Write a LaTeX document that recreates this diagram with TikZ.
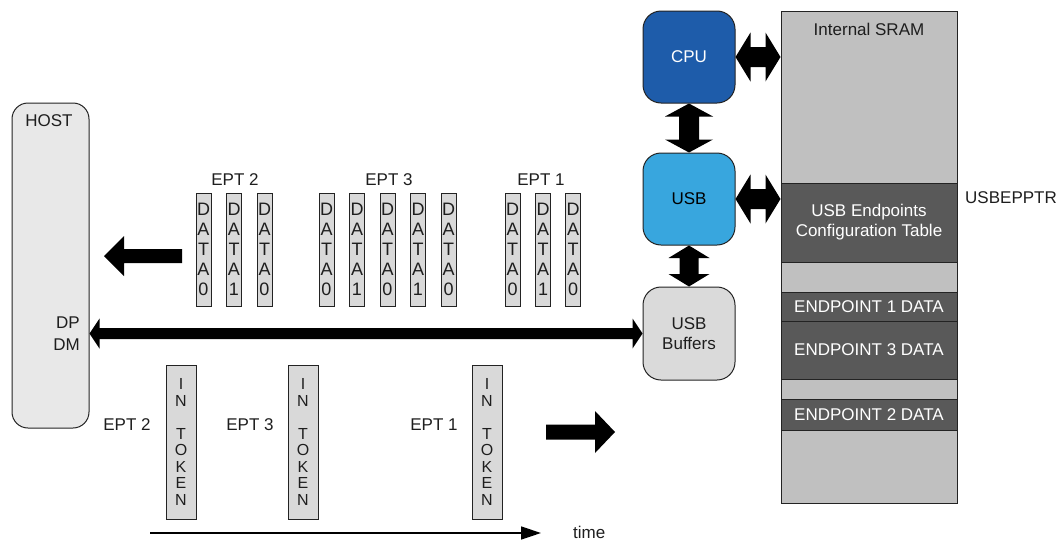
\documentclass[tikz,border=0pt]{standalone}
\usepackage{fontspec}
\setmainfont{Liberation Sans}
\usetikzlibrary{calc,arrows.meta}
\definecolor{cpublue}{RGB}{30,92,170}
\definecolor{usbblue}{RGB}{56,166,222}
\definecolor{hostgray}{RGB}{232,232,232}
\definecolor{bufgray}{RGB}{218,218,218}
\definecolor{sramgray}{RGB}{192,192,192}
\definecolor{darkblk}{RGB}{89,89,89}
\definecolor{boxgray}{RGB}{217,217,217}
\definecolor{edgec}{RGB}{35,35,35}
\definecolor{txt}{RGB}{30,30,30}
% double block arrow between two named points
\newcommand\dblblock[5]{%
  \path ($(#1)!#3!(#2)$) coordinate (dbHa) ($(#2)!#3!(#1)$) coordinate (dbHb);
  \fill[black] (#1) -- ($(dbHa)!#4!90:(#2)$) -- ($(dbHa)!#5!90:(#2)$)
    -- ($(dbHb)!#5!-90:(#1)$) -- ($(dbHb)!#4!-90:(#1)$) -- (#2)
    -- ($(dbHb)!#4!90:(#1)$) -- ($(dbHb)!#5!90:(#1)$)
    -- ($(dbHa)!#5!-90:(#2)$) -- ($(dbHa)!#4!-90:(#2)$) -- cycle;}
% single block arrow from tail #1 to tip #2
\newcommand\sglblock[5]{%
  \path ($(#2)!#3!(#1)$) coordinate (sbH);
  \fill[black] ($(#1)!#5!90:(#2)$) -- ($(sbH)!#5!90:(#2)$) -- ($(sbH)!#4!90:(#2)$)
    -- (#2) -- ($(sbH)!#4!-90:(#2)$) -- ($(sbH)!#5!-90:(#2)$) -- ($(#1)!#5!-90:(#2)$) -- cycle;}
\begin{document}
\begin{tikzpicture}[x=1pt,y=-1pt,
  every node/.style={font=\fontsize{17}{20}\selectfont, inner sep=0pt, text=txt},
  hostbox/.style={draw=edgec, line width=1pt, fill=hostgray, rounded corners=16pt,
    minimum width=77pt, minimum height=325pt},
  chip/.style={draw=edgec, line width=1pt, rounded corners=18pt,
    minimum width=92pt, minimum height=92pt, align=center},
  databox/.style={draw=edgec, line width=1pt, fill=boxgray, minimum width=15pt,
    minimum height=113pt, align=center, font=\fontsize{18}{20}\selectfont},
  tokbox/.style={draw=edgec, line width=1pt, fill=boxgray, minimum width=30pt,
    minimum height=154pt, align=center, font=\fontsize{16}{16.5}\selectfont},
  memblk/.style={draw=edgec, line width=1pt, fill=darkblk, text=white,
    minimum width=176pt, align=center},
]
\useasboundingbox (0,0) rectangle (1063,541);

% HOST
\node[hostbox] (host) at (50.5,265.5) {};
\node (hostlbl) at (49,121) {HOST};
\node[anchor=east] (dp) at (80,323) {DP};
\node[anchor=east] (dm) at (80,345) {DM};

% right column
\node[chip, fill=cpublue, text=white] (cpu) at (689,57) {CPU};
\node[chip, fill=usbblue, text=black] (usb) at (689,199) {USB};
\node[chip, fill=bufgray, minimum height=93pt] (buf) at (689,333.5) {USB\\Buffers};

% SRAM
\node[draw=edgec, line width=1pt, fill=sramgray, minimum width=176pt, minimum height=492pt] (sram) at (869,257) {};
\node (sramlbl) at (869,29) {Internal SRAM};
\node[memblk, minimum height=79pt] (cfg) at (869,222.5) {USB Endpoints\\Configuration Table};
\node[memblk, minimum height=29pt] (ep1) at (869,306.5) {ENDPOINT 1 DATA};
\node[memblk, minimum height=58pt] (ep3) at (869,350) {ENDPOINT 3 DATA};
\node[memblk, minimum height=31pt] (ep2) at (869,414.5) {ENDPOINT 2 DATA};
\node[anchor=west] (usbep) at (965,198) {USBEPPTR};

% block arrows on the right
\coordinate (cpuS) at (sram.west |- cpu.east);
\coordinate (usbS) at (sram.west |- usb.east);
\dblblock{cpu.east}{cpuS}{15pt}{24.5pt}{10pt}
\dblblock{usb.east}{usbS}{15pt}{24.5pt}{10pt}
\dblblock{cpu.south}{usb.north}{13pt}{24pt}{10pt}
\dblblock{usb.south}{buf.north}{12.5pt}{20.5pt}{9.5pt}

% DP/DM bus
\coordinate (dpA) at (host.east |- buf.west);
\dblblock{dpA}{buf.west}{10pt}{15pt}{5.5pt}

% direction arrows
\coordinate (laT) at (182,256);
\coordinate (laP) at (104,256);
\sglblock{laT}{laP}{20pt}{20pt}{7pt}
\coordinate (raT) at (546,432);
\coordinate (raP) at (615,432);
\sglblock{raT}{raP}{20pt}{21pt}{7.5pt}

% DATA packets
\node (e2) at (235,180) {EPT 2};
\node (e3) at (389,180) {EPT 3};
\node (e1) at (541,180) {EPT 1};
\node[databox] (d21) at (203.5,249.5) {D\\A\\T\\A\\0};
\node[databox] (d22) at (234,249.5) {D\\A\\T\\A\\1};
\node[databox] (d23) at (264.5,249.5) {D\\A\\T\\A\\0};
\node[databox] (d31) at (326.5,249.5) {D\\A\\T\\A\\0};
\node[databox] (d32) at (357,249.5) {D\\A\\T\\A\\1};
\node[databox] (d33) at (387.5,249.5) {D\\A\\T\\A\\0};
\node[databox] (d34) at (418,249.5) {D\\A\\T\\A\\1};
\node[databox] (d35) at (448.5,249.5) {D\\A\\T\\A\\0};
\node[databox] (d11) at (512.5,249.5) {D\\A\\T\\A\\0};
\node[databox] (d12) at (543,249.5) {D\\A\\T\\A\\1};
\node[databox] (d13) at (573,249.5) {D\\A\\T\\A\\0};

% IN tokens
\node (t2l) at (127,425) {EPT 2};
\node (t3l) at (250,425) {EPT 3};
\node (t1l) at (434,425) {EPT 1};
\node[tokbox] (t2) at (181,442) {I\\N\\[16.5pt]T\\O\\K\\E\\N};
\node[tokbox] (t3) at (303,442) {I\\N\\[16.5pt]T\\O\\K\\E\\N};
\node[tokbox] (t1) at (487,442) {I\\N\\[16.5pt]T\\O\\K\\E\\N};

% time axis
\coordinate (tA) at (150,533);
\coordinate (tB) at (541,533);
\draw[line width=1.5pt, -{Triangle[length=20pt,width=13pt]}] (tA) -- (tB);
\node[anchor=west] (time) at (573,532) {time};
\end{tikzpicture}
\end{document}
